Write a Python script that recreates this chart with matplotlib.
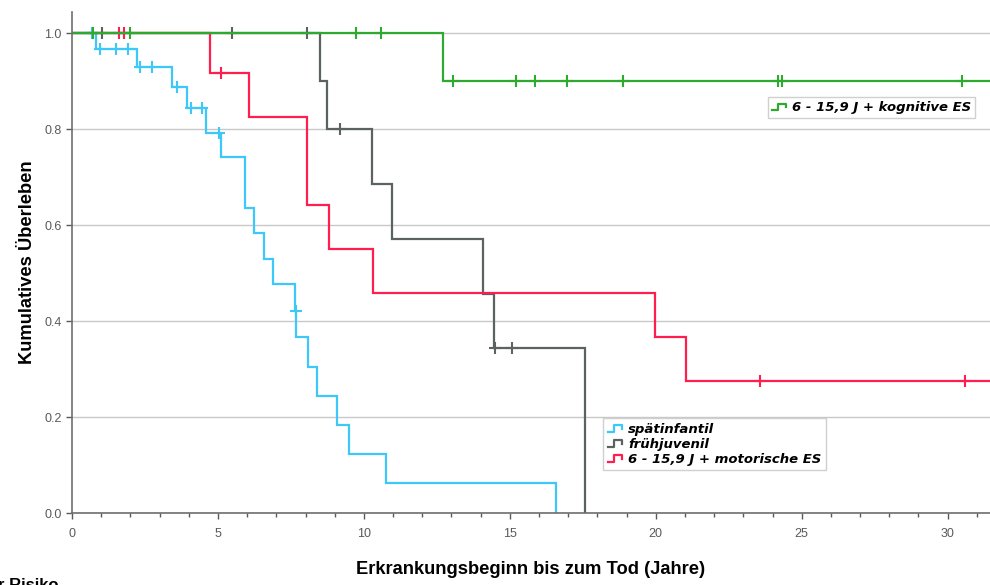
import numpy as np
import matplotlib.pyplot as plt
from matplotlib.lines import Line2D
from matplotlib.legend_handler import HandlerBase

# Kaplan-Meier steps per group: time of each step and survival after it
spaet_t = [0, 0.82, 2.23, 3.43, 3.94, 4.6, 5.1, 5.93, 6.23, 6.57, 6.9, 7.64, 7.68, 8.07, 8.4, 9.08, 9.5, 10.76, 16.57]
spaet_s = [1.0, 0.967, 0.929, 0.888, 0.844, 0.792, 0.742, 0.636, 0.583, 0.529, 0.477, 0.421, 0.367, 0.304, 0.243, 0.183, 0.123, 0.062, 0.0]
spaet_zens = [0.69, 0.96, 1.51, 1.92, 2.33, 2.74, 3.6, 4.08, 4.46, 5.04, 7.66]
spaet_ende = 16.57

frueh_t = [0, 8.48, 8.75, 10.27, 10.96, 14.08, 14.45, 17.57]
frueh_s = [1.0, 0.9, 0.8, 0.686, 0.571, 0.457, 0.343, 0.0]
frueh_zens = [1.02, 5.48, 8.06, 9.17, 14.5, 15.07]
frueh_ende = 17.57

motor_t = [0, 4.73, 6.08, 8.04, 8.8, 10.3, 19.97, 21.03]
motor_s = [1.0, 0.917, 0.825, 0.642, 0.55, 0.458, 0.367, 0.275]
motor_zens = [1.62, 1.78, 5.1, 23.56, 30.6]
motor_ende = 32

kogn_t = [0, 12.72]
kogn_s = [1.0, 0.9]
kogn_zens = [0.73, 2.0, 9.73, 10.6, 13.05, 15.2, 15.85, 16.95, 18.87, 24.18, 24.32, 30.5]
kogn_ende = 32

gruppen = [
    ("spätinfantil", spaet_t, spaet_s, spaet_zens, spaet_ende, "#3cc8f8"),
    ("frühjuvenil", frueh_t, frueh_s, frueh_zens, frueh_ende, "#5b6262"),
    ("6 - 15,9 J + motorische ES", motor_t, motor_s, motor_zens, motor_ende, "#ff1f4f"),
    ("6 - 15,9 J + kognitive ES", kogn_t, kogn_s, kogn_zens, kogn_ende, "#2eaa2e"),
]


class StepHandler(HandlerBase):
    # small step symbol like in SPSS legends
    def create_artists(self, legend, orig_handle, xdescent, ydescent, width, height, fontsize, trans):
        x0 = -xdescent
        y0 = -ydescent
        xs = [x0, x0 + 0.45 * width, x0 + 0.45 * width, x0 + width, x0 + width]
        ys = [y0 + 0.1 * height, y0 + 0.1 * height, y0 + 0.8 * height, y0 + 0.8 * height, y0 + 0.4 * height]
        ln = Line2D(xs, ys, color=orig_handle.get_color(), lw=1.6)
        ln.set_transform(trans)
        return [ln]


plt.rcParams['font.family'] = ['Liberation Sans', 'DejaVu Sans']

fig = plt.figure(figsize=(9.9, 5.85), dpi=100)
ax = fig.add_axes([72 / 990, 1 - 513 / 585, 1 - 72 / 990, (513 - 12) / 585])

handles = {}
for name, t, s, zens, ende, col in gruppen:
    t = np.array(t)
    s = np.array(s)
    xs = np.append(t, ende)
    ys = np.append(s, s[-1])
    ln, = ax.step(xs, ys, where='post', color=col, lw=1.6, solid_joinstyle='miter')
    idx = np.searchsorted(t, zens, side='right') - 1
    ax.plot(zens, s[idx], ls='none', marker='+', ms=9, mew=1.5, color=col)
    handles[name] = ln

ax.set_xlim(0, 31.45)
ax.set_ylim(0, 1.044)
ax.set_xticks([0, 5, 10, 15, 20, 25, 30])
ax.set_xticks(np.arange(0, 32, 1), minor=True)
ax.set_yticks([0.0, 0.2, 0.4, 0.6, 0.8, 1.0])
ax.set_yticklabels(["0.0", "0.2", "0.4", "0.6", "0.8", "1.0"])
ax.yaxis.grid(True, color='#c8c8c8', lw=1.0)
ax.set_axisbelow(True)

for sp in ['top', 'right']:
    ax.spines[sp].set_visible(False)
for sp in ['left', 'bottom']:
    ax.spines[sp].set_color('#6e6e6e')
    ax.spines[sp].set_linewidth(1.2)
ax.tick_params(axis='both', which='major', labelsize=9, colors='#5a5a5a', length=4, width=1)
ax.tick_params(axis='x', which='minor', length=3, width=1, colors='#5a5a5a')
ax.tick_params(axis='x', pad=7)

ax.set_xlabel("Erkrankungsbeginn bis zum Tod (Jahre)", fontsize=13.2, fontweight='bold', labelpad=15)
ax.set_ylabel("Kumulatives Überleben", fontsize=13.2, fontweight='bold', labelpad=6)

# row header of the risk table below, mostly outside the figure
fig.text(59 / 990, -0.014, "Anzahl unter Risiko", fontsize=12, fontweight='bold', ha='right', va='bottom')

leg_font = {'family': 'DejaVu Sans', 'weight': 'bold', 'style': 'italic', 'size': 9.5}

leg1 = ax.legend([handles["6 - 15,9 J + kognitive ES"]], ["6 - 15,9 J + kognitive ES"],
                 handler_map={Line2D: StepHandler()}, prop=leg_font,
                 loc='upper left', bbox_to_anchor=(768 / 990, 1 - 97 / 585), bbox_transform=fig.transFigure,
                 fancybox=False, edgecolor='#d0d0d0', framealpha=1, borderpad=0.3,
                 handlelength=1.1, handletextpad=0.45, borderaxespad=0)
ax.add_artist(leg1)

namen = ["spätinfantil", "frühjuvenil", "6 - 15,9 J + motorische ES"]
ax.legend([handles[n] for n in namen], namen, handler_map={Line2D: StepHandler()}, prop=leg_font,
          loc='upper left', bbox_to_anchor=(603 / 990, 1 - 418 / 585), bbox_transform=fig.transFigure,
          fancybox=False, edgecolor='#d0d0d0', framealpha=1, borderpad=0.35, labelspacing=0.15,
          handlelength=1.1, handletextpad=0.45, borderaxespad=0)

plt.savefig("out.png", dpi=100)
